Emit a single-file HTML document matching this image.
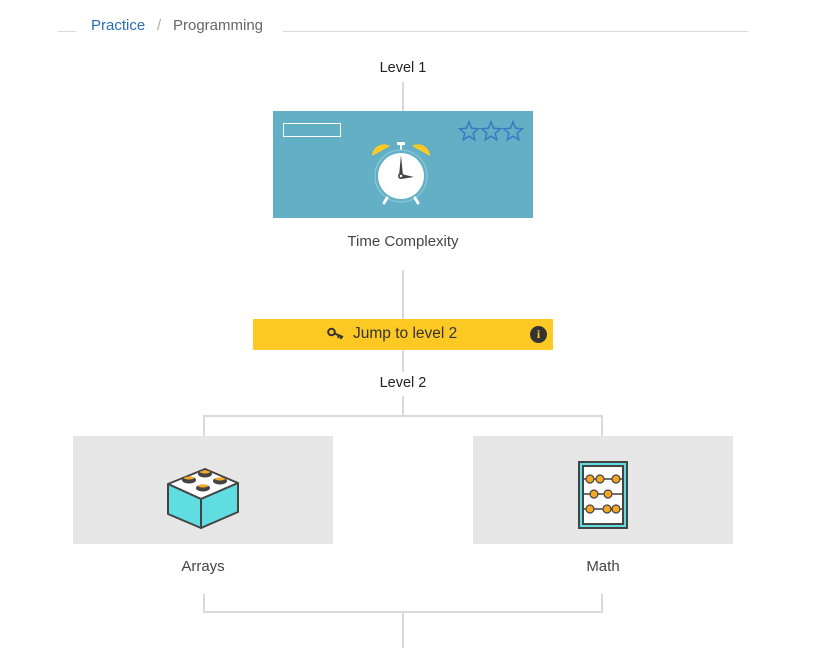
<!DOCTYPE html><html><head><style>
body{margin:0;width:827px;height:648px;background:#fff;font-family:"Liberation Sans",sans-serif;position:relative;overflow:hidden}
.a{position:absolute}
.l{position:absolute;background:#d9d9d9}
.t{position:absolute;font-size:15px;color:#444;text-align:center}
</style></head><body>
<div class="l" style="left:58px;top:31px;width:18px;height:1px"></div>
<div class="a" style="left:91px;top:17px;font-size:15px;color:#2a6ebb">Practice</div>
<div class="a" style="left:157px;top:17px;font-size:15px;color:#aaa">/</div>
<div class="a" style="left:173px;top:17px;font-size:15px;color:#666">Programming</div>
<div class="l" style="left:283px;top:31px;width:465px;height:1px"></div>

<div class="t" style="left:303px;width:200px;top:60px;color:#222;font-size:14.5px">Level 1</div>
<div class="l" style="left:402px;top:82px;width:2px;height:29px"></div>
<div class="a" style="left:273px;top:111px;width:260px;height:107px;background:#62afc6"></div>
<div class="a" style="left:283px;top:123px;width:58px;height:14px;border:1px solid #fff;box-sizing:border-box"></div>
<svg class="a" style="left:458px;top:120px" width="68" height="22" viewBox="0 0 68 22">
<g fill="none" stroke="#3a78c0" stroke-width="1.5">
<polygon points="11,2 13.6,8.3 20.4,8.8 15.2,13.2 16.8,19.8 11,16.2 5.2,19.8 6.8,13.2 1.6,8.8 8.4,8.3"/>
<polygon transform="translate(22,0)" points="11,2 13.6,8.3 20.4,8.8 15.2,13.2 16.8,19.8 11,16.2 5.2,19.8 6.8,13.2 1.6,8.8 8.4,8.3"/>
<polygon transform="translate(44,0)" points="11,2 13.6,8.3 20.4,8.8 15.2,13.2 16.8,19.8 11,16.2 5.2,19.8 6.8,13.2 1.6,8.8 8.4,8.3"/>
</g></svg>
<svg class="a" style="left:368px;top:138px" width="66" height="68" viewBox="0 0 66 68">
<path d="M4,18 A12,12 0 0 1 22,8 Z" fill="#fdc922"/>
<path d="M62,18 A12,12 0 0 0 44,8 Z" fill="#fdc922"/>
<rect x="29" y="4" width="8" height="3" fill="#fff"/><rect x="32" y="6" width="2" height="6" fill="#fff"/>
<circle cx="33" cy="38" r="26" fill="#62afc6" stroke="#8fcbdc" stroke-width="1"/>
<circle cx="33" cy="38" r="23" fill="#fff"/>
<line x1="19" y1="60" x2="16" y2="65" stroke="#fff" stroke-width="3" stroke-linecap="round"/>
<line x1="47" y1="60" x2="50" y2="65" stroke="#fff" stroke-width="3" stroke-linecap="round"/>
<polygon points="31,38 33,17 35,38" fill="#444"/><polygon points="33,36 46,39 33,41" fill="#444"/>
<circle cx="33" cy="38" r="3" fill="#444"/><circle cx="33" cy="38" r="1.3" fill="#fff"/>
</svg>
<div class="t" style="left:283px;width:240px;top:233px">Time Complexity</div>
<div class="l" style="left:402px;top:270px;width:2px;height:49px"></div>
<div class="a" style="left:253px;top:319px;width:300px;height:31px;background:#fdc922"></div>
<svg class="a" style="left:327px;top:327px" width="18" height="14" viewBox="0 0 18 14"><circle cx="4.5" cy="5" r="3.3" fill="none" stroke="#333" stroke-width="2"/><path d="M7.5,6.5 L16,10 M12,8.3 L11,11 M14.5,9.3 L13.6,12" stroke="#333" stroke-width="2" fill="none"/></svg>
<div class="a" style="left:353px;top:325px;font-size:15.5px;color:#333">Jump to level 2</div>
<div class="a" style="left:530px;top:326px;width:17px;height:17px;border-radius:50%;background:#333;color:#fdc922;font:bold 12px 'Liberation Serif',serif;text-align:center;line-height:17px">i</div>
<div class="l" style="left:402px;top:350px;width:2px;height:22px"></div>
<div class="t" style="left:303px;width:200px;top:375px;color:#222;font-size:14.5px">Level 2</div>
<div class="l" style="left:402px;top:396px;width:2px;height:20px"></div>
<div class="l" style="left:203px;top:415px;width:400px;height:2px"></div>
<div class="l" style="left:203px;top:415px;width:2px;height:21px"></div>
<div class="l" style="left:601px;top:415px;width:2px;height:21px"></div>

<div class="a" style="left:73px;top:436px;width:260px;height:108px;background:#e6e6e6"></div>
<div class="a" style="left:473px;top:436px;width:260px;height:108px;background:#e6e6e6"></div>
<svg class="a" style="left:165px;top:464px" width="76" height="66" viewBox="0 0 76 66">
<polygon points="3,20 40,5 73,19 36,35" fill="#fff" stroke="#444" stroke-width="2" stroke-linejoin="round"/>
<polygon points="3,20 36,35 36,64 3,50" fill="#5fdde0" stroke="#444" stroke-width="2" stroke-linejoin="round"/>
<polygon points="36,35 73,19 73,48 36,64" fill="#5fdde0" stroke="#444" stroke-width="2" stroke-linejoin="round"/>
<g fill="#444"><ellipse cx="40" cy="10" rx="7" ry="3.5"/><ellipse cx="24" cy="16" rx="7" ry="3.5"/><ellipse cx="55" cy="17" rx="7" ry="3.5"/><ellipse cx="38" cy="24" rx="7" ry="3.5"/></g>
<g fill="#f5a623"><ellipse cx="40" cy="8" rx="5" ry="1.5"/><ellipse cx="24" cy="14" rx="5" ry="1.5"/><ellipse cx="55" cy="15" rx="5" ry="1.5"/><ellipse cx="38" cy="22" rx="5" ry="1.5"/></g>
</svg>
<svg class="a" style="left:577px;top:460px" width="52" height="70" viewBox="0 0 52 70">
<rect x="1" y="1" width="50" height="68" fill="#444"/><rect x="3" y="3" width="46" height="64" fill="#5fdde0"/>
<rect x="5" y="5" width="42" height="60" fill="#444"/><rect x="7" y="7" width="38" height="56" fill="#fff"/>
<g stroke="#444" stroke-width="1.5"><line x1="7" y1="19" x2="45" y2="19"/><line x1="7" y1="34" x2="45" y2="34"/><line x1="7" y1="49" x2="45" y2="49"/></g>
<g fill="#f5a623" stroke="#444" stroke-width="1.2"><circle cx="13" cy="19" r="4"/><circle cx="23" cy="19" r="4"/><circle cx="39" cy="19" r="4"/><circle cx="17" cy="34" r="4"/><circle cx="31" cy="34" r="4"/><circle cx="13" cy="49" r="4"/><circle cx="30" cy="49" r="4"/><circle cx="39" cy="49" r="4"/></g>
</svg>
<div class="t" style="left:103px;width:200px;top:558px">Arrays</div>
<div class="t" style="left:503px;width:200px;top:558px">Math</div>
<div class="l" style="left:203px;top:594px;width:2px;height:19px"></div>
<div class="l" style="left:601px;top:594px;width:2px;height:19px"></div>
<div class="l" style="left:203px;top:611px;width:400px;height:2px"></div>
<div class="l" style="left:402px;top:611px;width:2px;height:37px"></div>
</body></html>
